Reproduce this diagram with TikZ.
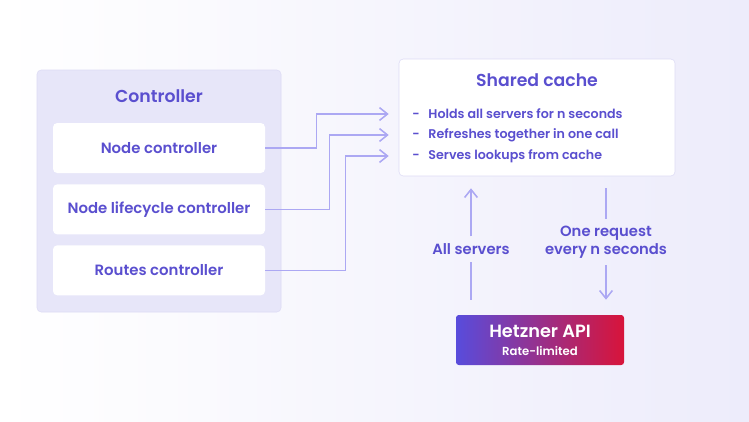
\documentclass[tikz,border=0pt]{standalone}
\usepackage{fontspec}
\setmainfont{Poppins}[UprightFont=* SemiBold, BoldFont=* Bold]
\usetikzlibrary{positioning,arrows.meta,calc}
\definecolor{InkPurple}{RGB}{90,79,207}
\definecolor{LinkLav}{RGB}{172,168,243}
\definecolor{PanelLav}{RGB}{231,230,249}
\definecolor{PanelEdge}{RGB}{221,219,245}
\definecolor{BgLav}{RGB}{237,236,251}
\definecolor{ApiBlue}{RGB}{88,76,220}
\definecolor{ApiRed}{RGB}{216,20,58}
\tikzset{
  link/.style={-{Straight Barb[length=2mm,width=3.2mm]},line width=1.1pt,draw=LinkLav},
  plainlink/.style={line width=1.1pt,draw=LinkLav},
  panel/.style={draw=PanelEdge,fill=PanelLav,rounded corners=3pt,
    minimum width=6.1cm,minimum height=6.05cm},
  ctlbox/.style={fill=white,rounded corners=3pt,minimum width=5.3cm,
    minimum height=1.25cm,text=InkPurple,font=\fontsize{10.6}{13}\selectfont},
  cachebox/.style={fill=white,draw=PanelEdge,rounded corners=3pt,
    minimum width=6.9cm,minimum height=2.925cm},
  heading/.style={text=InkPurple,font=\fontsize{12.3}{15}\selectfont},
  bullet/.style={text=InkPurple,inner sep=0pt,anchor=west,
    font=\fontsize{9}{12}\selectfont},
  tag/.style={text=InkPurple,align=center,inner sep=0.17cm,
    font=\fontsize{10.5}{12.6}\selectfont},
  apibox/.style={left color=ApiBlue,right color=ApiRed,rounded corners=2pt,
    minimum width=4.2cm,minimum height=1.25cm,text=white,align=center}
}

\begin{document}
\begin{tikzpicture}
  \shade[left color=white,right color=BgLav] (0,0) rectangle (18.725,-10.525);
  \useasboundingbox (0,0) rectangle (18.725,-10.525);

  % controller side
  \node[panel] (ctrl) at (3.975,-4.775) {};
  \node[heading,below=0.38cm of ctrl.north] (ctrltitle) {Controller};
  \node[ctlbox,below=1.325cm of ctrl.north] (nodectl) {Node controller};
  \node[ctlbox,below=0.27cm of nodectl] (lifectl) {Node lifecycle controller};
  \node[ctlbox,below=0.26cm of lifectl] (routectl) {Routes controller};

  % cache
  \node[cachebox] (cache) at (13.425,-2.9375) {};
  \node[heading,below=0.25cm of cache.north] (cachetitle) {Shared cache};
  \node[bullet] (b1) at (10.3,-2.85) {-\hspace{0.22cm}Holds all servers for n seconds};
  \node[bullet] (b2) at (10.3,-3.375) {-\hspace{0.22cm}Refreshes together in one call};
  \node[bullet] (b3) at (10.3,-3.9) {-\hspace{0.22cm}Serves lookups from cache};

  \draw[link] (nodectl.east) -- ++(1.275,0) |- ([xshift=-0.25cm]cache.west |- b1);
  \draw[link] (lifectl.east) -- ++(1.6,0) |- ([xshift=-0.25cm]cache.west |- b2);
  \draw[link] (routectl.east) -- ++(2.0,0) |- ([xshift=-0.25cm]cache.west |- b3);

  % api
  \node[apibox] (api) at (13.5,-8.5) {{\fontsize{12.6}{14}\selectfont Hetzner API}\\[1pt]
    {\fontsize{8.3}{10}\selectfont Rate-limited}};
  \node[tag] (allsrv) at (11.775,-6.225) {All servers};
  \node[tag] (onereq) at (15.15,-6.05) {One request\\every n seconds};

  \draw[plainlink,shorten <=0.375cm] (api.north -| allsrv) -- (allsrv.south);
  \draw[link,shorten >=0.3cm] (allsrv.north) -- (cache.south -| allsrv);
  \draw[plainlink,shorten <=0.3cm] (cache.south -| onereq) -- (onereq.north);
  \draw[link,shorten >=0.375cm] (onereq.south) -- (api.north -| onereq);
\end{tikzpicture}
\end{document}
